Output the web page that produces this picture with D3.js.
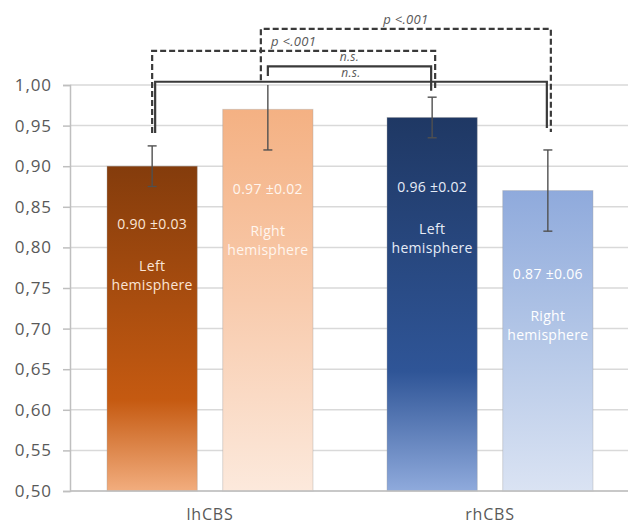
<!DOCTYPE html>
<html>
<head>
<meta charset="utf-8">
<script src="https://cdn.jsdelivr.net/npm/d3@7"></script>
<style>
  body { margin: 0; background: #fff; }
  svg { display: block; font-family: "Open Sans", sans-serif; }
</style>
</head>
<body>
<svg id="chart" width="628" height="526"></svg>
<script>
// categories and values
const groups = ["lhCBS", "rhCBS"];
const sides = ["Left", "Right"];
const means = [0.90, 0.97, 0.96, 0.87];
const errors = [0.025, 0.05, 0.025, 0.05];
const valueLabels = ["0.90 \u00b10.03", "0.97 \u00b10.02", "0.96 \u00b10.02", "0.87 \u00b10.06"];
const labelAt = [0.829, 0.872, 0.874, 0.767];
const yTicks = [0.50, 0.55, 0.60, 0.65, 0.70, 0.75, 0.80, 0.85, 0.90, 0.95, 1.00];

// significance brackets: bar index from/to, top level and leg ends (in axis units)
const bracketFrom = [1, 0, 0, 1];
const bracketTo = [3, 2, 3, 2];
const bracketTop = [1.069, 1.042, 1.004, 1.023];
const bracketLeftEnd = [1.006, 0.941, 0.941, 1.011];
const bracketRightEnd = [0.942, 0.994, 0.947, 0.993];
const bracketText = ["p <.001", "p <.001", "n.s.", "n.s."];
const bracketDashed = [true, true, false, false];

const svg = d3.select("#chart");
const margin = { left: 70, right: -2, top: 85, bottom: 35 };
const width = 628, height = 526;

const y = d3.scaleLinear().domain([0.5, 1.0]).range([height - margin.bottom, margin.top]);
const x0 = d3.scaleBand().domain(groups).range([margin.left, width - margin.right]);
const x1 = d3.scaleBand().domain(sides).range([0, x0.bandwidth()]).paddingInner(0.22).paddingOuter(0.32);

const bars = means.map((m, i) => ({
  group: groups[Math.floor(i / 2)],
  side: sides[i % 2],
  mean: m,
  err: errors[i],
  label: valueLabels[i],
  at: labelAt[i],
  idx: i
}));
const cx = d => x0(d.group) + x1(d.side) + x1.bandwidth() / 2;

// gradients
const gradStops = [
  [[0, "#843c0c"], [0.72, "#c55a11"], [1, "#f2ad7e"]],
  [[0, "#f4b183"], [0.5, "#f8cbad"], [1, "#fce9dc"]],
  [[0, "#1f3864"], [0.68, "#2f5597"], [1, "#8faadc"]],
  [[0, "#8faadc"], [0.5, "#b4c7e7"], [1, "#dae3f3"]]
];
const textColors = ["#fbe5d6", "#fff6ef", "#e6ecf7", "#ffffff"];
const defs = svg.append("defs");
gradStops.forEach((stops, i) => {
  const g = defs.append("linearGradient").attr("id", "grad" + i)
    .attr("x1", 0).attr("y1", 0).attr("x2", 0).attr("y2", 1);
  stops.forEach(s => g.append("stop").attr("offset", s[0]).attr("stop-color", s[1]));
});

// gridlines
svg.append("g").selectAll("line")
  .data(yTicks)
  .join("line")
  .attr("x1", margin.left).attr("x2", width)
  .attr("y1", d => y(d)).attr("y2", d => y(d))
  .attr("stroke", "#d9d9d9").attr("stroke-width", 1.5);

// y axis
const yAxis = svg.append("g")
  .attr("transform", `translate(${margin.left},0)`)
  .call(d3.axisLeft(y).tickValues(yTicks).tickSize(7).tickPadding(11)
    .tickFormat(d => d3.format(".2f")(d).replace(".", ",")));
yAxis.select(".domain").attr("stroke", "#bfbfbf").attr("stroke-width", 1.5);
yAxis.selectAll(".tick line").attr("stroke", "#bfbfbf").attr("stroke-width", 1.5);
yAxis.selectAll("text").attr("fill", "#595959").attr("font-size", 17)
  .attr("letter-spacing", 0.9).attr("font-family", "Open Sans, sans-serif");

// bars
svg.append("g").selectAll("rect")
  .data(bars)
  .join("rect")
  .attr("x", d => x0(d.group) + x1(d.side))
  .attr("y", d => y(d.mean))
  .attr("width", x1.bandwidth())
  .attr("height", d => y(0.5) - y(d.mean))
  .attr("fill", d => `url(#grad${d.idx})`)
  .attr("stroke", "#9a9a9a").attr("stroke-opacity", 0.35).attr("stroke-width", 1);

// x axis line
svg.append("line")
  .attr("x1", margin.left).attr("x2", width)
  .attr("y1", y(0.5)).attr("y2", y(0.5))
  .attr("stroke", "#bfbfbf").attr("stroke-width", 1.5);

// category labels
svg.append("g").selectAll("text")
  .data(groups)
  .join("text")
  .attr("x", d => x0(d) + x0.bandwidth() / 2)
  .attr("y", 520)
  .attr("text-anchor", "middle")
  .attr("fill", "#595959").attr("font-size", 16).attr("letter-spacing", 0.8)
  .text(d => d);

// labels inside bars
const lbl = svg.append("g").selectAll("g")
  .data(bars)
  .join("g")
  .attr("transform", d => `translate(${cx(d)},${y(d.at)})`)
  .attr("fill", d => textColors[d.idx])
  .attr("font-size", 14).attr("letter-spacing", 0.3)
  .attr("text-anchor", "middle");
lbl.append("text").attr("dy", "0.35em").text(d => d.label);
lbl.append("text").attr("dy", "0.35em").attr("y", 42).text(d => d.side);
lbl.append("text").attr("dy", "0.35em").attr("y", 61).text("hemisphere");

// error bars (clipped at the top of the axis)
const eb = svg.append("g").attr("stroke", "#505050").attr("stroke-width", 1.4);
bars.forEach(d => {
  const hi = Math.min(1.0, d.mean + d.err), lo = d.mean - d.err;
  eb.append("line").attr("x1", cx(d)).attr("x2", cx(d)).attr("y1", y(hi)).attr("y2", y(lo));
  eb.append("line").attr("x1", cx(d) - 4.5).attr("x2", cx(d) + 4.5).attr("y1", y(lo)).attr("y2", y(lo));
  if (d.mean + d.err <= 1.0) {
    eb.append("line").attr("x1", cx(d) - 4.5).attr("x2", cx(d) + 4.5).attr("y1", y(hi)).attr("y2", y(hi));
  }
});

// significance brackets
const legShift = [[-7, 3], [0, 3], [3, -1], [0, -1]];
const br = svg.append("g");
bracketText.forEach((t, i) => {
  const xa = cx(bars[bracketFrom[i]]) + legShift[i][0];
  const xb = cx(bars[bracketTo[i]]) + legShift[i][1];
  const yt = y(bracketTop[i]);
  br.append("path")
    .attr("d", `M${xa},${y(bracketLeftEnd[i])}V${yt}H${xb}V${y(bracketRightEnd[i])}`)
    .attr("fill", "none")
    .attr("stroke", "#3a3a3a")
    .attr("stroke-width", 2.2)
    .attr("stroke-dasharray", bracketDashed[i] ? "6,3" : null);
  br.append("text")
    .attr("x", (xa + xb) / 2)
    .attr("y", yt - 5)
    .attr("text-anchor", "middle")
    .attr("font-style", "italic")
    .attr("font-size", bracketDashed[i] ? 13 : 12)
    .attr("letter-spacing", 0.3)
    .attr("fill", "#595959")
    .text(t);
});
</script>
</body>
</html>
